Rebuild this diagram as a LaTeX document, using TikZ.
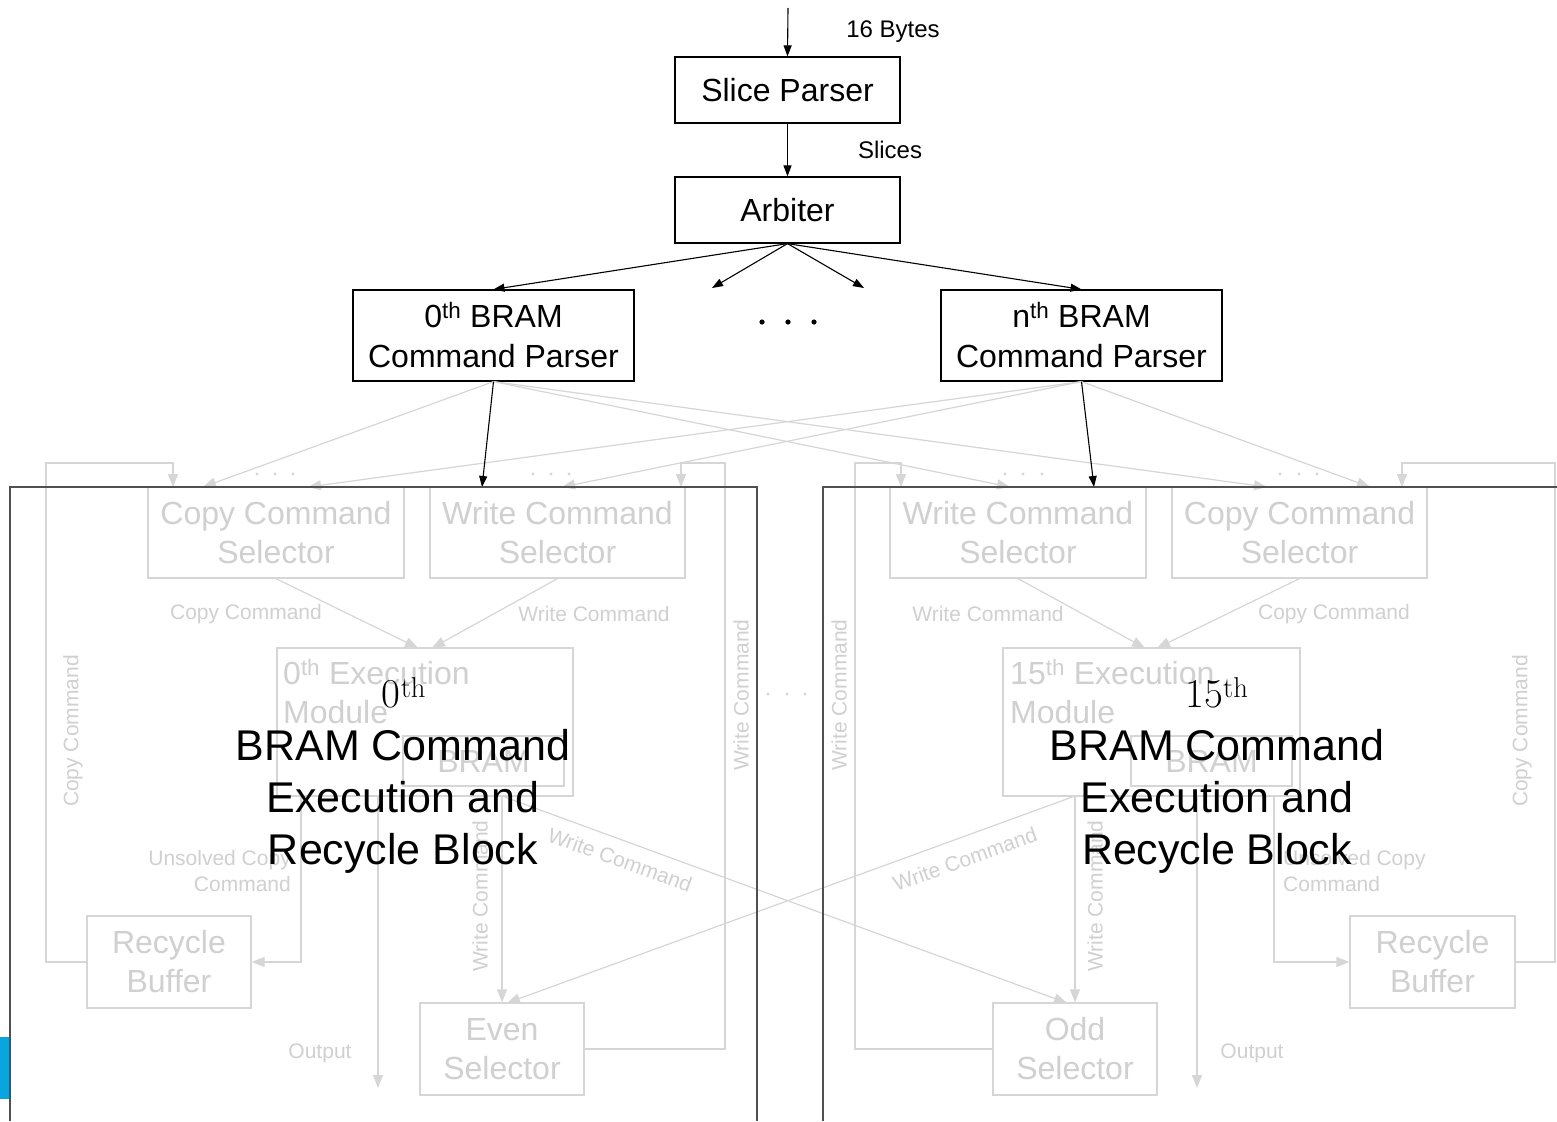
\documentclass[tikz,border=0pt]{standalone}
\usepackage[no-math]{fontspec}
\setmainfont{Liberation Sans}
\usetikzlibrary{arrows.meta,calc}
\definecolor{lg}{HTML}{D6D6D6}
\definecolor{lgt}{HTML}{D0D0D0}
\definecolor{frm}{HTML}{505050}
\definecolor{blu}{HTML}{0AA5DC}
\tikzset{
  bbox/.style={draw=black, line width=1.2pt, inner sep=0pt, align=center, font=\fontsize{32}{40}\selectfont},
  gbox/.style={draw=lg, line width=1.2pt, inner sep=0pt, align=center, text=lgt, font=\fontsize{32}{39}\selectfont},
  gtext/.style={text=lgt, inner sep=0pt, font=\fontsize{32}{39}\selectfont},
  barrow/.style={draw=black, line width=1.1pt, -{Triangle[length=11pt,width=8pt]}},
  garrow/.style={draw=lg, line width=1.2pt, -{Triangle[length=13pt,width=10pt]}},
  gline/.style={draw=lg, line width=1.2pt},
  glab/.style={text=lgt, font=\fontsize{21}{26}\selectfont, inner sep=0pt},
  blab/.style={text=black, font=\fontsize{24}{29}\selectfont, inner sep=0pt},
  bigtext/.style={text=black, font=\fontsize{43}{52}\selectfont, inner sep=0pt, align=center},
  bigsup/.style={text=black, inner sep=0pt, font=\fontsize{41}{50}\fontfamily{lmr}\selectfont},
  blockframe/.style={draw=frm, line width=1.6pt},
}
\begin{document}
\begin{tikzpicture}[x=1pt,y=-1pt]
\useasboundingbox (0,0) rectangle (1557,1121);
\fill[white] (0,0) rectangle (1557,1121);

% ---------- coordinates ----------
\coordinate (in0) at (788,8);
\coordinate (ad1) at (712,288);
\coordinate (ad2) at (864,288);
\coordinate (pL0) at (482,487);
\coordinate (pR0) at (1094,487);
\coordinate (g1) at (203,487);
\coordinate (g2) at (1010,487);
\coordinate (g3) at (1267,487);
\coordinate (g4) at (1370,487);
\coordinate (g5) at (562,487);
\coordinate (g6) at (308,487);
\coordinate (eL1) at (418,648);
\coordinate (eL2) at (432,648);
\coordinate (eR1) at (1145,648);
\coordinate (eR2) at (1157,648);
\coordinate (l1) at (46,962);
\coordinate (l2) at (46,463);
\coordinate (l3) at (173,463);
\coordinate (l4) at (173,487);
\coordinate (o1) at (301,796);
\coordinate (o2) at (301,962);
\coordinate (o3) at (378,796);
\coordinate (o4) at (378,1088);
\coordinate (o5) at (502,796);
\coordinate (w1) at (725,1049);
\coordinate (w2) at (725,463);
\coordinate (w3) at (681,463);
\coordinate (w4) at (681,487);
\coordinate (v1) at (855,1049);
\coordinate (v2) at (855,463);
\coordinate (v3) at (901,463);
\coordinate (v4) at (901,487);
\coordinate (u1) at (1555,962);
\coordinate (u2) at (1555,463);
\coordinate (u3) at (1402,463);
\coordinate (u4) at (1402,487);
\coordinate (q1) at (1274,796);
\coordinate (q2) at (1274,962);
\coordinate (q3) at (1197,796);
\coordinate (q4) at (1197,1088);
\coordinate (q5) at (1075,796);
\coordinate (xL) at (1067,1003);
\coordinate (xR) at (507,1003);

% ---------- top black nodes ----------
\node[bbox, minimum width=225pt, minimum height=66pt] (sp) at (787.5,90) {Slice Parser};
\node[bbox, minimum width=225pt, minimum height=66pt] (arb) at (787.5,210) {Arbiter};
\node[bbox, minimum width=281pt, minimum height=91pt] (p0) at (493.5,335.5) {0\textsuperscript{th} BRAM\\Command Parser};
\node[bbox, minimum width=281pt, minimum height=91pt] (pn) at (1081.5,335.5) {n\textsuperscript{th} BRAM\\Command Parser};
\node[blab] (lb16) at (893,32) {16 Bytes};
\node[blab] (lbsl) at (890,150) {Slices};
\foreach \xx in {762,788,814} \fill[black] (\xx,322) circle (2.6pt);

% ---------- gray boxes ----------
\node[gbox, minimum width=256pt, minimum height=91pt] (csL) at (276,532.5) {Copy Command\\Selector};
\node[gbox, minimum width=255pt, minimum height=91pt] (wsL) at (557.5,532.5) {Write Command\\Selector};
\node[gbox, minimum width=296pt, minimum height=148pt] (exL) at (425,722) {};
\node[gbox, minimum width=161pt, minimum height=50pt] (bramL) at (483.5,761) {BRAM};
\node[gtext, anchor=west, align=left] (exLt) at (283,692) {0\textsuperscript{th} Execution\\Module};
\node[gbox, minimum width=164pt, minimum height=92pt] (rbL) at (169,962) {Recycle\\Buffer};
\node[gbox, minimum width=164pt, minimum height=92pt] (evL) at (502,1049) {Even\\Selector};

\node[gbox, minimum width=256pt, minimum height=91pt] (wsR) at (1018,532.5) {Write Command\\Selector};
\node[gbox, minimum width=255pt, minimum height=91pt] (csR) at (1299.5,532.5) {Copy Command\\Selector};
\node[gbox, minimum width=297pt, minimum height=148pt] (exR) at (1151.5,722) {};
\node[gbox, minimum width=161pt, minimum height=50pt] (bramR) at (1211.5,761) {BRAM};
\node[gtext, anchor=west, align=left] (exRt) at (1010,692) {15\textsuperscript{th} Execution\\Module};
\node[gbox, minimum width=165pt, minimum height=92pt] (rbR) at (1432.5,962) {Recycle\\Buffer};
\node[gbox, minimum width=164pt, minimum height=92pt] (odR) at (1075,1049) {Odd\\Selector};

% ---------- gray connectors from parsers ----------
\draw[garrow] (p0.south) -- (g1);
\draw[garrow] (p0.south) -- (g2);
\draw[garrow] (p0.south) -- (g3);
\draw[garrow] (pn.south) -- (g4);
\draw[garrow] (pn.south) -- (g5);
\draw[garrow] (pn.south) -- (g6);
\foreach \xx in {257,275,293,533,551,569,1005,1023,1042,1280,1299,1317} \fill[lg] (\xx,474) circle (1.6pt);
\foreach \xx in {768,787,805} \fill[lg] (\xx,694) circle (1.6pt);

% ---------- left block gray connectors ----------
\draw[garrow] (csL.south) -- (eL1);
\draw[garrow] (wsL.south) -- (eL2);
\draw[garrow] (rbL.west) -- (l1) -- (l2) -- (l3) -- (l4);
\draw[garrow] (o1) -- (o2) -- (rbL.east);
\draw[garrow] (o3) -- (o4);
\draw[garrow] (o5) -- (evL.north);
\draw[garrow] (o5) -- (xL);
\draw[garrow] (evL.east) -- (w1) -- (w2) -- (w3) -- (w4);

% ---------- right block gray connectors ----------
\draw[garrow] (wsR.south) -- (eR1);
\draw[garrow] (csR.south) -- (eR2);
\draw[garrow] (odR.west) -- (v1) -- (v2) -- (v3) -- (v4);
\draw[garrow] (rbR.east) -- (u1) -- (u2) -- (u3) -- (u4);
\draw[garrow] (q1) -- (q2) -- (rbR.west);
\draw[garrow] (q3) -- (q4);
\draw[garrow] (q5) -- (odR.north);
\draw[garrow] (q5) -- (xR);

% ---------- gray labels ----------
\node[glab] (lc1) at (246,614) {Copy Command};
\node[glab] (lw1) at (594,614) {Write Command};
\node[glab] (lw2) at (988,614) {Write Command};
\node[glab] (lc2) at (1334,614) {Copy Command};
\node[glab, rotate=90] (lv1) at (73,731) {Copy Command};
\node[glab, rotate=90] (lv2) at (741,695) {Write Command};
\node[glab, rotate=90] (lv3) at (839,695) {Write Command};
\node[glab, rotate=90] (lv4) at (1522,731) {Copy Command};
\node[glab, rotate=90] (lv5) at (480,896) {Write Command};
\node[glab, rotate=90] (lv6) at (1095,896) {Write Command};
\node[glab, rotate=-20] (ld1) at (620,860) {Write Command};
\node[glab, rotate=20] (ld2) at (965,859) {Write Command};
\node[glab, anchor=east, align=right] (lu1) at (291,871) {Unsolved Copy\\Command};
\node[glab, anchor=west, align=left] (lu2) at (1283,871) {Unsolved Copy\\Command};
\node[glab] (lo1) at (320,1053) {Output};
\node[glab] (lo2) at (1252,1053) {Output};

% ---------- block frames ----------
\draw[blockframe] (10,1121) -- (10,487) -- (757,487) -- (757,1121);
\draw[blockframe] (823,1121) -- (823,487) -- (1557,487);
\fill[blu] (0,1037) rectangle (9,1099);

% ---------- black connectors ----------
\draw[barrow] (in0) -- (sp.north);
\draw[barrow] (sp.south) -- (arb.north);
\draw[barrow] (arb.south) -- (p0.north);
\draw[barrow] (arb.south) -- (ad1);
\draw[barrow] (arb.south) -- (ad2);
\draw[barrow] (arb.south) -- (pn.north);
\draw[barrow] (p0.south) -- (pL0);
\draw[barrow] (pn.south) -- (pR0);

% ---------- big overlay text ----------
\node[bigsup, anchor=base] (bsL) at (404,707) {0\textsuperscript{th}};
\node[bigtext] (btL) at (403,801) {BRAM Command\\Execution and\\Recycle Block};
\node[bigsup, anchor=base] (bsR) at (1217,707) {15\textsuperscript{th}};
\node[bigtext] (btR) at (1217,801) {BRAM Command\\Execution and\\Recycle Block};
\end{tikzpicture}
\end{document}
